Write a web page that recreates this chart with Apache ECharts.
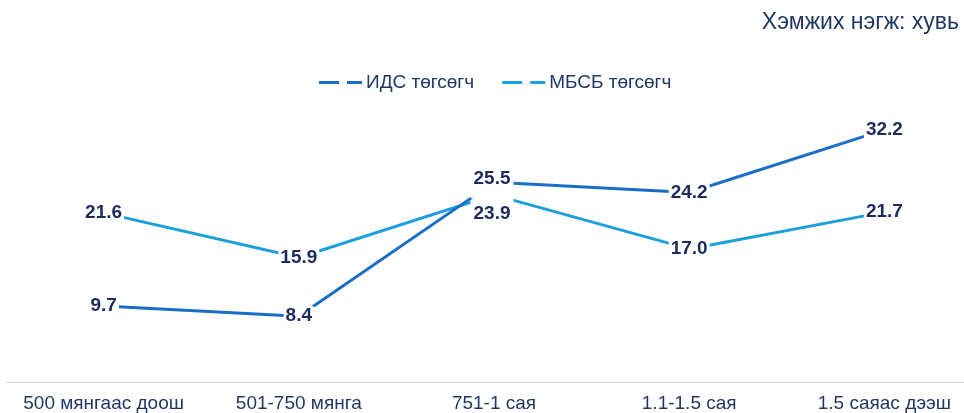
<!DOCTYPE html>
<html>
<head>
<meta charset="utf-8">
<script src="https://cdn.jsdelivr.net/npm/echarts@6/dist/echarts.min.js"></script>
<style>html,body{margin:0;padding:0;background:#fff;overflow:hidden;width:964px;height:413px;}#c{width:982px;height:413px;}</style>
</head>
<body>
<div id="c"></div>
<script>
const categories = ['500 мянгаас доош', '501-750 мянга', '751-1 сая', '1.1-1.5 сая', '1.5 саяас дээш'];
const seriesNames = ['ИДС төгсөгч', 'МБСБ төгсөгч'];
const idsValues = [9.7, 8.4, 25.5, 24.2, 32.2];
const mbsbValues = [21.6, 15.9, 23.9, 17.0, 21.7];
const unitText = 'Хэмжих нэгж: хувь';

const FONT = 'Arial, "Liberation Sans", sans-serif';
const NAVY = '#1c2b5e';
const DARK = '#1a6ec8';
const LIGHT = '#1ba0dc';

function labelCfg() {
  return {
    show: true, position: 'inside', color: NAVY, fontFamily: FONT,
    fontWeight: 'bold', fontSize: 19, backgroundColor: '#fff', padding: [1, 2, 0, 2],
    formatter: p => p.value.toFixed(1)
  };
}

const idsData = idsValues.map((v, i) => {
  const d = { value: v };
  if (i === 2) d.label = { offset: [-2, -4], padding: [1, 3, 20, 3] };
  return d;
});
const mbsbData = mbsbValues.map((v, i) => {
  const d = { value: v };
  if (i === 2) d.label = { offset: [-2, 19], padding: [18, 3, 0, 3] };
  return d;
});

const chart = echarts.init(document.getElementById('c'), null, { renderer: 'canvas' });
chart.setOption({
  animation: false,
  backgroundColor: '#fff',
  title: {
    text: unitText, right: 18, top: 6,
    textStyle: { fontFamily: FONT, fontSize: 23, fontWeight: 'normal', color: '#1f3864' }
  },
  legend: {
    left: 314, top: 68, itemGap: 28, itemWidth: 43, itemHeight: 3,
    textStyle: { fontFamily: FONT, fontSize: 19, color: '#1f3864', padding: [0, 0, 0, -1] },
    data: seriesNames.map(n => ({ name: n, icon: 'path://M0,0h20v3h-20zM28,0h15v3h-15z' }))
  },
  grid: { left: 6, right: 0, top: 108, bottom: 30 },
  xAxis: {
    type: 'category', data: categories, boundaryGap: true,
    axisLine: { lineStyle: { color: '#d9d9d9', width: 1 } },
    axisTick: { show: false },
    axisLabel: { fontFamily: FONT, fontSize: 19, color: '#1f3864', margin: 12, interval: 0 }
  },
  yAxis: {
    type: 'value', min: 0, max: 35, show: false, splitLine: { show: false }
  },
  series: [
    { name: seriesNames[0], type: 'line', data: idsData, color: DARK, symbol: 'circle', symbolSize: 1, showSymbol: true,
      itemStyle: { color: DARK }, lineStyle: { color: DARK, width: 3 }, label: labelCfg(), z: 3 },
    { name: seriesNames[1], type: 'line', data: mbsbData, color: LIGHT, symbol: 'circle', symbolSize: 1, showSymbol: true,
      itemStyle: { color: LIGHT }, lineStyle: { color: LIGHT, width: 3 }, label: labelCfg(), z: 2 }
  ]
});
</script>
</body>
</html>
